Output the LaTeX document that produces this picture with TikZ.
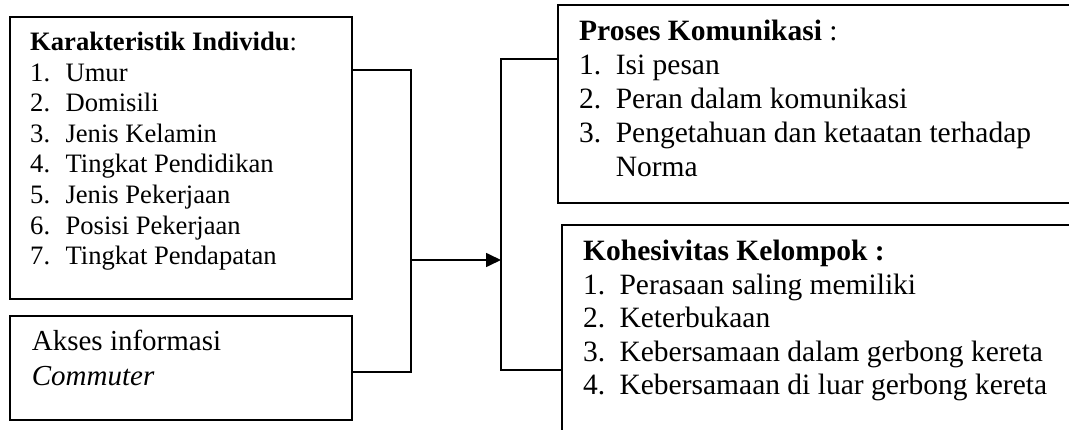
\documentclass[tikz,border=0pt]{standalone}
\usepackage{fontspec}
\setmainfont{Liberation Serif}
\usetikzlibrary{arrows.meta}
\begin{document}
\begin{tikzpicture}[x=1pt,y=-1pt,
  box/.style={draw=black,line width=1.8pt,rectangle,inner sep=0pt,anchor=north west},
  conn/.style={draw=black,line width=1.7pt},
  txt/.style={inner sep=0pt,anchor=base west,align=left}]
\useasboundingbox (0,0) rectangle (1069,430);
\clip (0,0) rectangle (1069,430);
% boxes
\node[box,minimum width=342pt,minimum height=282pt] (ki) at (9,16) {};
\node[box,minimum width=342pt,minimum height=104pt] (ak) at (9,315) {};
\node[box,minimum width=600pt,minimum height=198pt] (pk) at (557,4) {};
\node[box,minimum width=600pt,minimum height=300pt] (kk) at (561,224) {};
% texts
\node[txt,font=\fontsize{26.6}{30.6}\selectfont] (kit) at (30,50.5) {%
\begin{tabular}[t]{@{}p{35.4pt}@{}l@{}}
\multicolumn{2}{@{}l@{}}{\textbf{Karakteristik Individu}:}\\
1. & Umur\\
2. & Domisili\\
3. & Jenis Kelamin\\
4. & Tingkat Pendidikan\\
5. & Jenis Pekerjaan\\
6. & Posisi Pekerjaan\\
7. & Tingkat Pendapatan
\end{tabular}};
\node[txt,font=\fontsize{29}{35}\selectfont] (akt) at (31.7,350.5) {%
\begin{tabular}[t]{@{}l@{}}
Akses informasi\\
\textit{Commuter}
\end{tabular}};
\node[txt,font=\fontsize{29.5}{34}\selectfont] (pkt) at (579,41) {%
\begin{tabular}[t]{@{}p{36.6pt}@{}l@{}}
\multicolumn{2}{@{}l@{}}{\textbf{Proses Komunikasi} :}\\
1. & Isi pesan\\
2. & Peran dalam komunikasi\\
3. & Pengetahuan dan ketaatan terhadap\\
 & Norma
\end{tabular}};
\node[txt,font=\fontsize{29.5}{33.5}\selectfont] (kkt) at (583,261) {%
\begin{tabular}[t]{@{}p{36.4pt}@{}l@{}}
\multicolumn{2}{@{}l@{}}{\textbf{Kohesivitas Kelompok :}}\\
1. & Perasaan saling memiliki\\
2. & Keterbukaan\\
3. & Kebersamaan dalam gerbong kereta\\
4. & Kebersamaan di luar gerbong kereta
\end{tabular}};
% connectors
\coordinate (j1) at (411,70);
\coordinate (j2) at (411,372);
\coordinate (j3) at (411,260);
\coordinate (b1) at (501,59);
\coordinate (b2) at (501,370);
\draw[conn] (ki.east |- j1) -- (j1) -- (j2) -- (ak.east |- j2);
\draw[conn] (pk.west |- b1) -- (b1) -- (b2) -- (kk.west |- b2);
\draw[conn,-{Triangle[length=15pt,width=14pt]}] (j3) -- (j3 -| b1);
\end{tikzpicture}
\end{document}
